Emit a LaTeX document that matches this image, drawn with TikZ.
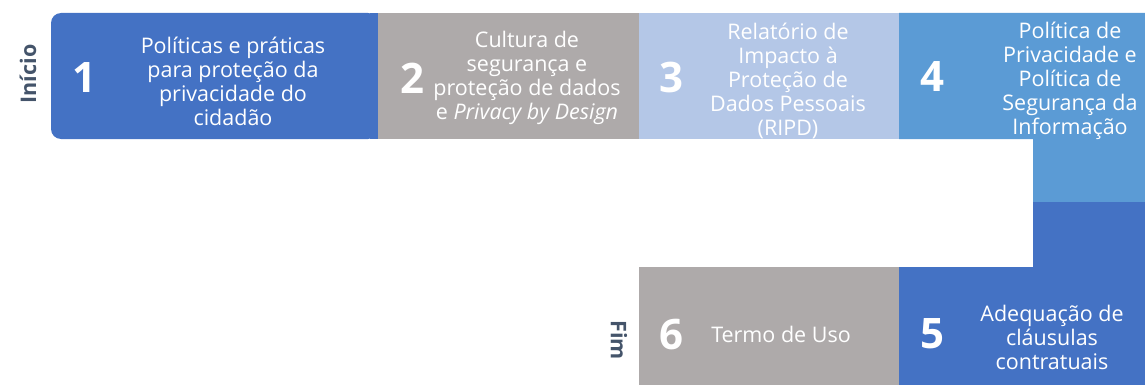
\documentclass[tikz,border=0pt]{standalone}
\usepackage{fontspec}
\setmainfont{Open Sans}
\definecolor{cblue}{HTML}{4472C4}
\definecolor{cgray}{HTML}{AEAAAA}
\definecolor{clight}{HTML}{B4C7E7}
\definecolor{cmid}{HTML}{5B9BD5}
\definecolor{cnavy}{HTML}{44546A}
\tikzset{
  num/.style={text=white, font=\fontsize{42}{42}\selectfont\bfseries, inner sep=0pt},
  txt/.style={text=white, align=center, font=\fontsize{21.5}{24}\selectfont, inner sep=0pt},
  side/.style={text=cnavy, font=\fontsize{21.5}{22}\selectfont\bfseries, inner sep=0pt}
}
\begin{document}
\begin{tikzpicture}[x=1pt,y=-1pt]
\useasboundingbox (0,0) rectangle (1145,385);
% boxes
\fill[cblue, rounded corners=10pt] (378,13) -- (51,13) -- (51,139) -- (378,139) -- cycle;
\fill[cblue] (370,13) rectangle (378,139);
\fill[cgray] (378,13) rectangle (638.5,139);
\fill[clight] (638.5,13) rectangle (899,139);
\fill[cmid] (899,13) -- (1145,13) -- (1145,202) -- (1033,202) -- (1033,139) -- (899,139) -- cycle;
\fill[cblue] (1033,202) -- (1145,202) -- (1145,385) -- (899,385) -- (899,267) -- (1033,267) -- cycle;
\fill[cgray] (638.5,267) rectangle (899,385);
% numbers
\node[num] (n1) at (84,78) {1};
\node[num] (n2) at (412,78) {2};
\node[num] (n3) at (671,77) {3};
\node[num] (n4) at (932,77) {4};
\node[num] (n5) at (932,334) {5};
\node[num] (n6) at (671,335) {6};
% texts
\node[txt] (t1) at (233,81) {Políticas e práticas\\para proteção da\\privacidade do\\cidadão};
\node[txt] (t2) at (527,78) {Cultura de\\segurança e\\proteção de dados\\e \textit{Privacy by Design}};
\node[txt] (t3) at (788,81) {Relatório de\\Impacto à\\Proteção de\\Dados Pessoais\\(RIPD)};
\node[txt] (t4) at (1070,81) {Política de\\Privacidade e\\Política de\\Segurança da\\Informação};
\node[txt] (t5) at (1052,337) {Adequação de\\cláusulas\\contratuais};
\node[txt] (t6) at (781,334) {Termo de Uso};
% side labels
\node[side, rotate=90] (ini) at (28,74) {Início};
\node[side, rotate=-90] (fim) at (619,340) {Fim};
\end{tikzpicture}
\end{document}
